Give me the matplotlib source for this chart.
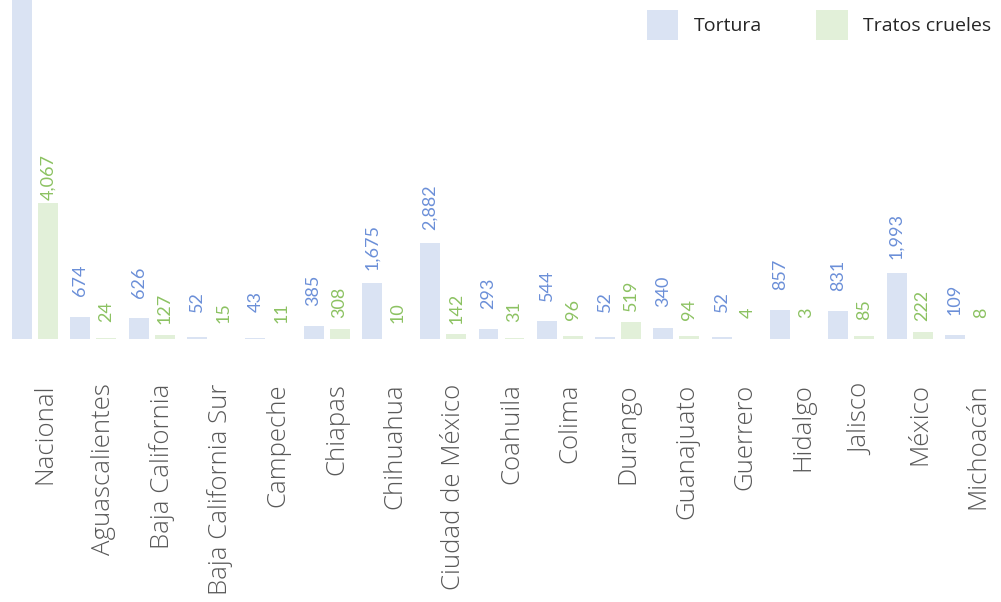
import matplotlib
matplotlib.use("Agg")
import matplotlib.pyplot as plt
import matplotlib.transforms as mtransforms
import numpy as np

# data (Nacional tortura bar runs off the top, value estimated)
estados = ["Nacional", "Aguascalientes", "Baja California", "Baja California Sur",
           "Campeche", "Chiapas", "Chihuahua", "Ciudad de México", "Coahuila",
           "Colima", "Durango", "Guanajuato", "Guerrero", "Hidalgo", "Jalisco",
           "México", "Michoacán"]
tortura = [15000, 674, 626, 52, 43, 385, 1675, 2882, 293, 544, 52, 340, 52, 857, 831, 1993, 109]
tratos = [4067, 24, 127, 15, 11, 308, 10, 142, 31, 96, 519, 94, 4, 3, 85, 222, 8]

c_tort = "#dae3f3"
c_trat = "#e2f0d9"
c_tort_txt = "#6b8fd8"
c_trat_txt = "#8cc262"
c_axis = "#595959"

fig = plt.figure(figsize=(10.01, 6.02), dpi=100)
ax = fig.add_axes([6 / 1001, 1 - 339 / 602, 991 / 1001, 339 / 602])

x = np.arange(len(estados))
w = 0.343
off = 0.223
b1 = ax.bar(x - off, tortura, w, color=c_tort, label="Tortura")
b2 = ax.bar(x + off, tratos, w, color=c_trat, label="Tratos crueles")

ax.set_xlim(-0.5, len(estados) - 0.5)
ax.set_ylim(0, 10170)

# value labels, rotated, centred a fixed distance above each bar
for xi, v in zip(x, tortura):
    ax.annotate(f"{v:,}", (xi - off, v), xytext=(0, 26), textcoords="offset points",
                rotation=90, ha="center", va="center", color=c_tort_txt,
                fontsize=13, family="Lato")
for xi, v in zip(x, tratos):
    ax.annotate(f"{v:,}", (xi + off, v), xytext=(0, 19), textcoords="offset points",
                rotation=90, ha="center", va="center", color=c_trat_txt,
                fontsize=13, family="Lato")

ax.set_xticks(x)
ax.set_xticklabels(estados, rotation=90, fontsize=18.5, color=c_axis,
                   family="Open Sans", fontweight="light")
ax.tick_params(axis="x", length=0, pad=32)
shift = mtransforms.ScaledTranslation(10 / 100, 0, fig.dpi_scale_trans)
for lbl in ax.get_xticklabels():
    lbl.set_transform(lbl.get_transform() + shift)
ax.set_yticks([])
for s in ax.spines.values():
    s.set_visible(False)

leg = fig.legend(loc="upper right", bbox_to_anchor=(1.0, 1.0), ncol=2, frameon=False,
                 prop={"family": "Open Sans", "size": 14}, handlelength=1.6,
                 handleheight=2.0, handletextpad=0.8, columnspacing=2.8,
                 borderaxespad=0.1)
for t in leg.get_texts():
    t.set_color("#262626")

fig.savefig("out.png", dpi=100)
